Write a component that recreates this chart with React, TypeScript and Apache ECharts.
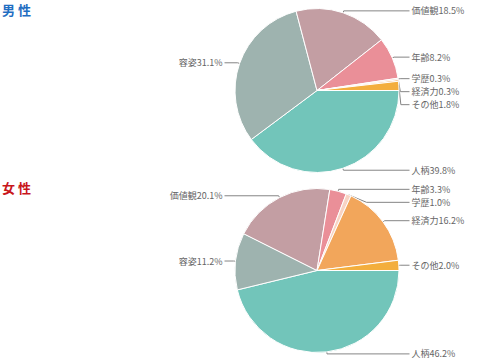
import React, { useEffect, useRef } from "react";
import * as echarts from "echarts";

const categories = ["人柄", "容姿", "価値観", "年齢", "学歴", "経済力", "その他"];
const maleValues = [39.8, 31.1, 18.5, 8.2, 0.3, 0.3, 1.8];
const femaleValues = [46.2, 11.2, 20.1, 3.3, 1.0, 16.2, 2.0];
const titles = ["男 性", "女 性"];

const colors = ["#72c5ba", "#9eb3af", "#c39ea3", "#ea8f98", "#f8d3c3", "#f2a65b", "#f3ae3d"];
const titleColors = ["#1f6ec2", "#c8161b"];

const RADIUS = 82;
const LEN1 = 2;
const REACH = 92.5;
const FONT = "'Noto Sans CJK JP', 'Noto Sans', sans-serif";

function buildData(values: number[]) {
  const total = values.reduce((a, b) => a + b, 0);
  let cum = 0;
  return values.map((v, i) => {
    const mid = ((cum + v / 2) / total) * Math.PI * 2;
    cum += v;
    const horiz = (RADIUS + LEN1) * Math.abs(Math.cos(mid));
    const len2 = Math.max(2, REACH - horiz);
    return {
      name: categories[i],
      value: v,
      itemStyle: { color: colors[i] },
      labelLine: { length: LEN1, length2: len2 },
    };
  });
}

function pieSeries(values: number[], top: number, height: number) {
  return {
    type: "pie",
    left: 0,
    top,
    width: 500,
    height,
    center: [317, 90.5],
    radius: RADIUS,
    startAngle: 0,
    clockwise: true,
    avoidLabelOverlap: true,
    silent: true,
    itemStyle: { borderColor: "#ffffff", borderWidth: 1 },
    label: {
      show: true,
      position: "outside",
      alignTo: "labelLine",
      distanceToLabelLine: 2,
      bleedMargin: 2,
      color: "#666666",
      fontSize: 9,
      lineHeight: 11,
      fontFamily: FONT,
      formatter: (p: any) => p.name + Number(p.value).toFixed(1) + "%",
    },
    labelLine: {
      show: true,
      smooth: false,
      lineStyle: { color: "#858585", width: 1 },
    },
    emphasis: { disabled: true },
    data: buildData(values),
  };
}

export default function App() {
  const ref = useRef<HTMLDivElement>(null);
  useEffect(() => {
    if (!ref.current) return;
    const chart = echarts.init(ref.current, undefined, { renderer: "svg" });
    chart.setOption({
      animation: false,
      backgroundColor: "#ffffff",
      title: titles.map((t, i) => ({
        text: t,
        left: 2,
        top: i === 0 ? 3 : 181,
        padding: 0,
        textStyle: {
          color: titleColors[i],
          fontSize: 13,
          fontWeight: "bold",
          fontFamily: FONT,
        },
      })),
      series: [pieSeries(maleValues, 0, 180), pieSeries(femaleValues, 180, 181)],
    });
    return () => chart.dispose();
  }, []);
  return (
    <div
      ref={ref}
      style={{ position: "absolute", left: 0, top: 0, width: 500, height: 361 }}
    />
  );
}
